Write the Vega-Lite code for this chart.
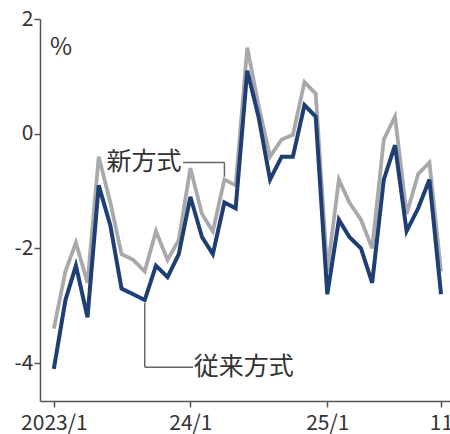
{
  "$schema": "https://vega.github.io/schema/vega-lite/v6.json",
  "width": 410,
  "height": 382,
  "autosize": {"type": "none"},
  "padding": {"left": 40, "top": 19, "right": 0, "bottom": 33},
  "background": "white",
  "config": {
    "view": {"stroke": null},
    "font": "Noto Sans CJK JP",
    "axis": {
      "domainColor": "#555555",
      "domainWidth": 1.5,
      "tickColor": "#555555",
      "tickWidth": 1.5,
      "labelColor": "#333333",
      "labelFont": "Noto Sans CJK JP",
      "labelFontSize": 21,
      "grid": false,
      "title": null
    }
  },
  "datasets": {
    "wages": [
      {"date": "2023-01-01", "old": -4.1, "new": -3.4},
      {"date": "2023-02-01", "old": -2.9, "new": -2.4},
      {"date": "2023-03-01", "old": -2.3, "new": -1.9},
      {"date": "2023-04-01", "old": -3.2, "new": -2.6},
      {"date": "2023-05-01", "old": -0.9, "new": -0.4},
      {"date": "2023-06-01", "old": -1.6, "new": -1.2},
      {"date": "2023-07-01", "old": -2.7, "new": -2.1},
      {"date": "2023-08-01", "old": -2.8, "new": -2.2},
      {"date": "2023-09-01", "old": -2.9, "new": -2.4},
      {"date": "2023-10-01", "old": -2.3, "new": -1.7},
      {"date": "2023-11-01", "old": -2.5, "new": -2.2},
      {"date": "2023-12-01", "old": -2.1, "new": -1.85},
      {"date": "2024-01-01", "old": -1.1, "new": -0.6},
      {"date": "2024-02-01", "old": -1.8, "new": -1.4},
      {"date": "2024-03-01", "old": -2.1, "new": -1.7},
      {"date": "2024-04-01", "old": -1.2, "new": -0.8},
      {"date": "2024-05-01", "old": -1.3, "new": -0.9},
      {"date": "2024-06-01", "old": 1.1, "new": 1.5},
      {"date": "2024-07-01", "old": 0.3, "new": 0.5},
      {"date": "2024-08-01", "old": -0.8, "new": -0.4},
      {"date": "2024-09-01", "old": -0.4, "new": -0.1},
      {"date": "2024-10-01", "old": -0.4, "new": -0.02},
      {"date": "2024-11-01", "old": 0.5, "new": 0.9},
      {"date": "2024-12-01", "old": 0.3, "new": 0.7},
      {"date": "2025-01-01", "old": -2.8, "new": -2.4},
      {"date": "2025-02-01", "old": -1.5, "new": -0.8},
      {"date": "2025-03-01", "old": -1.8, "new": -1.2},
      {"date": "2025-04-01", "old": -2.0, "new": -1.5},
      {"date": "2025-05-01", "old": -2.6, "new": -2.0},
      {"date": "2025-06-01", "old": -0.8, "new": -0.1},
      {"date": "2025-07-01", "old": -0.2, "new": 0.3},
      {"date": "2025-08-01", "old": -1.7, "new": -1.4},
      {"date": "2025-09-01", "old": -1.3, "new": -0.7},
      {"date": "2025-10-01", "old": -0.8, "new": -0.5},
      {"date": "2025-11-01", "old": -2.8, "new": -2.4}
    ],
    "leaders": [
      {"x": "2023-12-12", "x2": "2024-04-01", "y": -0.5, "y2": -0.5},
      {"x": "2024-04-01", "x2": "2024-04-01", "y": -0.5, "y2": -0.75},
      {"x": "2023-09-01", "x2": "2023-09-01", "y": -2.95, "y2": -4.07},
      {"x": "2023-09-01", "x2": "2024-01-08", "y": -4.07, "y2": -4.07}
    ],
    "notes": [
      {"date": "2023-05-22", "value": -0.5, "label": "新方式"},
      {"date": "2024-01-10", "value": -4.07, "label": "従来方式"}
    ],
    "unit": [
      {"date": "2023-01-20", "value": 1.5, "label": "%"}
    ]
  },
  "layer": [
    {
      "mark": {"type": "rule", "color": "#555555", "strokeWidth": 1.5},
      "encoding": {
        "y": {"datum": 0, "type": "quantitative", "scale": {"domain": [-4.66, 2]}}
      }
    },
    {
      "data": {"name": "wages"},
      "mark": {"type": "line", "color": "#a7a9ac", "strokeWidth": 3.8, "strokeJoin": "miter"},
      "encoding": {
        "x": {
          "field": "date",
          "type": "temporal",
          "scale": {
            "type": "utc",
            "domain": [
              {"year": 2022, "month": 11, "date": 25, "utc": true},
              {"year": 2025, "month": 11, "date": 25, "utc": true}
            ]
          },
          "axis": {
            "values": [
              {"year": 2023, "month": 1, "date": 1, "utc": true},
              {"year": 2024, "month": 1, "date": 1, "utc": true},
              {"year": 2025, "month": 1, "date": 1, "utc": true},
              {"year": 2025, "month": 11, "date": 1, "utc": true}
            ],
            "labelExpr": "utcmonth(datum.value) == 10 ? '11' : (utcyear(datum.value) == 2023 ? '2023/1' : (utcyear(datum.value) - 2000) + '/1')",
            "ticks": true,
            "tickSize": 6,
            "labelPadding": 5,
            "labelFlush": false,
            "labelOverlap": false,
            "encode": {"ticks": {"update": {"y2": {"value": -6}}}}
          }
        },
        "y": {
          "field": "new",
          "type": "quantitative",
          "scale": {"domain": [-4.66, 2], "nice": false, "zero": false},
          "axis": {
            "values": [-4, -2, 0, 2],
            "labelExpr": "'' + datum.value",
            "ticks": true,
            "tickSize": 6,
            "labelPadding": 1,
            "labelFlush": false,
            "labelOverlap": false,
            "encode": {"ticks": {"update": {"x2": {"value": 6}}}}
          }
        }
      }
    },
    {
      "data": {"name": "wages"},
      "mark": {"type": "line", "color": "#1d3f74", "strokeWidth": 4, "strokeJoin": "miter"},
      "encoding": {
        "x": {"field": "date", "type": "temporal"},
        "y": {"field": "old", "type": "quantitative"}
      }
    },
    {
      "data": {"name": "leaders"},
      "mark": {"type": "rule", "color": "#666666", "strokeWidth": 1.5},
      "encoding": {
        "x": {"field": "x", "type": "temporal"},
        "x2": {"field": "x2"},
        "y": {"field": "y", "type": "quantitative"},
        "y2": {"field": "y2"}
      }
    },
    {
      "data": {"name": "notes"},
      "mark": {"type": "text", "align": "left", "baseline": "middle", "fontSize": 25, "color": "#333333", "font": "Noto Sans CJK JP"},
      "encoding": {
        "x": {"field": "date", "type": "temporal"},
        "y": {"field": "value", "type": "quantitative"},
        "text": {"field": "label"}
      }
    },
    {
      "data": {"name": "unit"},
      "mark": {"type": "text", "align": "center", "baseline": "middle", "fontSize": 24, "color": "#333333", "font": "Noto Sans CJK JP"},
      "encoding": {
        "x": {"field": "date", "type": "temporal"},
        "y": {"field": "value", "type": "quantitative"},
        "text": {"field": "label"}
      }
    }
  ]
}
